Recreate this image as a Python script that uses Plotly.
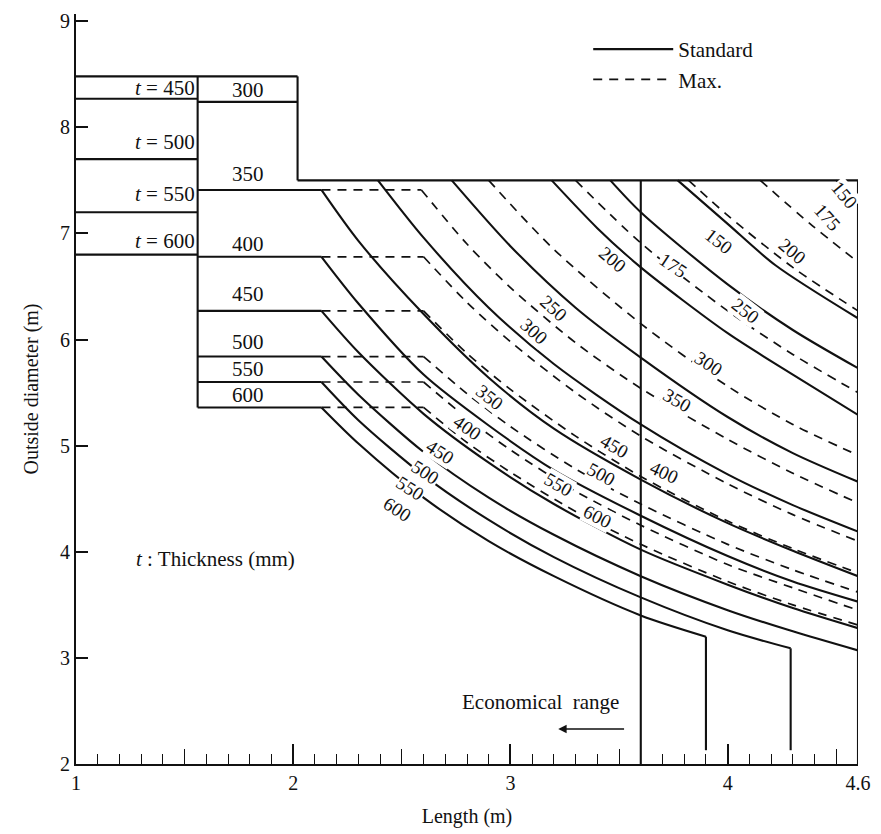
import plotly.graph_objects as go

SERIF = "Liberation Serif"
INK = "#111111"

# ---------------------------------------------------------------------------
# Curve data: length L (m) against outside diameter D (m) for wall thickness t (mm)
# ---------------------------------------------------------------------------
std_thickness = [150, 175, 200, 250, 300, 350, 400, 450, 500, 550, 600]
std_length = [
    [3.77, 4.00, 4.22, 4.60],
    [3.46, 3.60, 4.00, 4.30, 4.60],
    [3.19, 3.40, 3.60, 4.00, 4.30, 4.60],
    [2.73, 3.00, 3.30, 3.60, 4.00, 4.30, 4.60],
    [2.39, 2.60, 2.90, 3.20, 3.60, 4.00, 4.30, 4.60],
    [1.56, 2.13, 2.30, 2.60, 2.90, 3.20, 3.60, 4.00, 4.30, 4.60],
    [1.56, 2.13, 2.30, 2.60, 2.90, 3.20, 3.60, 4.00, 4.30, 4.60],
    [1.56, 2.13, 2.30, 2.60, 2.90, 3.20, 3.60, 4.00, 4.30, 4.60],
    [1.56, 2.13, 2.30, 2.60, 2.90, 3.20, 3.60, 4.00, 4.30, 4.60],
    [1.56, 2.13, 2.30, 2.60, 2.90, 3.20, 3.60, 4.00, 4.29],
    [1.56, 2.13, 2.30, 2.60, 2.90, 3.20, 3.60, 3.90],
]
std_diameter = [
    [7.50, 7.09, 6.70, 6.20],
    [7.50, 7.20, 6.52, 6.09, 5.73],
    [7.50, 7.05, 6.68, 6.06, 5.67, 5.29],
    [7.50, 6.88, 6.30, 5.83, 5.27, 4.93, 4.66],
    [7.50, 6.96, 6.30, 5.77, 5.20, 4.73, 4.44, 4.19],
    [7.41, 7.41, 6.93, 6.24, 5.64, 5.16, 4.68, 4.27, 4.01, 3.77],
    [6.78, 6.78, 6.34, 5.67, 5.19, 4.77, 4.34, 3.96, 3.72, 3.53],
    [6.27, 6.27, 5.88, 5.30, 4.84, 4.45, 4.02, 3.69, 3.47, 3.28],
    [5.84, 5.84, 5.48, 4.94, 4.51, 4.16, 3.77, 3.45, 3.25, 3.07],
    [5.60, 5.60, 5.24, 4.72, 4.30, 3.95, 3.57, 3.26, 3.09],
    [5.36, 5.36, 5.02, 4.51, 4.10, 3.77, 3.40, 3.20],
]

max_thickness = [150, 175, 200, 250, 300, 350, 400, 450, 500, 550, 600]
max_length = [
    [4.50, 4.60],
    [4.15, 4.38, 4.60],
    [3.82, 4.00, 4.30, 4.60],
    [3.30, 3.60, 4.00, 4.30, 4.60],
    [2.90, 3.20, 3.60, 4.00, 4.30, 4.60],
    [2.13, 2.59, 2.80, 3.00, 3.30, 3.60, 4.00, 4.30, 4.60],
    [2.13, 2.60, 2.80, 3.00, 3.30, 3.60, 4.00, 4.30, 4.60],
    [2.13, 2.60, 2.80, 3.00, 3.30, 3.60, 4.00, 4.30, 4.60],
    [2.13, 2.60, 2.80, 3.00, 3.30, 3.60, 4.00, 4.30, 4.60],
    [2.13, 2.60, 2.80, 3.00, 3.30, 3.60, 4.00, 4.30, 4.60],
    [2.13, 2.60, 2.80, 3.00, 3.30, 3.60, 4.00, 4.30, 4.60],
]
max_diameter = [
    [7.50, 7.30],
    [7.50, 7.09, 6.73],
    [7.50, 7.17, 6.68, 6.27],
    [7.50, 6.91, 6.27, 5.86, 5.50],
    [7.50, 6.85, 6.15, 5.56, 5.20, 4.91],
    [7.41, 7.41, 6.90, 6.49, 5.97, 5.54, 5.06, 4.74, 4.46],
    [6.78, 6.78, 6.35, 5.98, 5.50, 5.09, 4.64, 4.35, 4.10],
    [6.27, 6.27, 5.87, 5.53, 5.09, 4.71, 4.29, 4.03, 3.80],
    [5.84, 5.84, 5.49, 5.18, 4.78, 4.45, 4.07, 3.83, 3.62],
    [5.60, 5.60, 5.26, 4.96, 4.57, 4.25, 3.88, 3.66, 3.45],
    [5.36, 5.36, 5.03, 4.75, 4.38, 4.07, 3.72, 3.50, 3.31],
]

# Frame of the diagram (m)
left_row_levels = [8.48, 8.27, 7.70, 7.20, 6.80]   # t = 450 ... 600 rows, L = 1.0 - 1.56
row300_level = 8.24
column_edges = [1.00, 1.56, 2.02]
band_top = 7.50
economical_limit = 3.60
length_max = 4.60
tail_floor = 2.13

left_row_names = ["450", "500", "550", "600"]
column_names = ["300", "350", "400", "450", "500", "550", "600"]

x_ticks = [1, 2, 3, 4, 4.6]
x_half_ticks = [1.5, 2.5, 3.5, 4.5]
y_ticks = [2, 3, 4, 5, 6, 7, 8, 9]

# ---------------------------------------------------------------------------
fig = go.Figure()
SOLID = dict(color=INK, width=2.1)
DASHED = dict(color=INK, width=1.7, dash="9px,7px")

# frame lines
fx, fy = [], []
def seg(x0, y0, x1, y1):
    fx.extend([x0, x1, None])
    fy.extend([y0, y1, None])

seg(column_edges[0], left_row_levels[0], column_edges[2], left_row_levels[0])
for lv in left_row_levels[1:]:
    seg(column_edges[0], lv, column_edges[1], lv)
seg(column_edges[1], row300_level, column_edges[2], row300_level)
seg(column_edges[1], left_row_levels[0], column_edges[1], std_diameter[-1][0])
seg(column_edges[2], left_row_levels[0], column_edges[2], band_top)
seg(column_edges[2], band_top, length_max, band_top)
seg(economical_limit, band_top, economical_limit, 2.0)
seg(length_max, band_top, length_max, 2.0)
fig.add_trace(go.Scatter(x=fx, y=fy, mode="lines", line=SOLID, showlegend=False,
                         hoverinfo="skip", xaxis="x2"))

first = True
for t, L, D in zip(std_thickness, std_length, std_diameter):
    start = 0
    if D[0] == D[1]:
        fig.add_trace(go.Scatter(x=L[:2], y=D[:2], mode="lines", line=SOLID,
                                 showlegend=False, hoverinfo="skip"))
        start = 1
    fig.add_trace(go.Scatter(x=L[start:], y=D[start:], mode="lines", line=SOLID,
                             line_shape="spline", line_smoothing=0.8,
                             name="Standard", legendrank=1,
                             showlegend=first, hoverinfo="skip"))
    first = False
    if L[-1] < length_max:
        fig.add_trace(go.Scatter(x=[L[-1], L[-1]], y=[D[-1], tail_floor], mode="lines",
                                 line=SOLID, showlegend=False, hoverinfo="skip"))

first = True
for t, L, D in zip(max_thickness, max_length, max_diameter):
    start = 0
    if D[0] == D[1]:
        fig.add_trace(go.Scatter(x=L[:2], y=D[:2], mode="lines", line=DASHED,
                                 showlegend=False, hoverinfo="skip"))
        start = 1
    fig.add_trace(go.Scatter(x=L[start:], y=D[start:], mode="lines", line=DASHED,
                             line_shape="spline", line_smoothing=0.8,
                             name="Max.", legendrank=2,
                             showlegend=first, hoverinfo="skip"))
    first = False

# ---------------------------------------------------------------------------
annotations = []
def text(x, y, s, size=19, angle=0, bg=None):
    a = dict(x=x, y=y, text=s, showarrow=False, textangle=angle,
             font=dict(family=SERIF, size=size, color=INK))
    if bg:
        a.update(bgcolor=bg, borderpad=0)
    annotations.append(a)

# row captions in the left blocks
left_caption_y = [8.375, 7.86, 7.37, 6.93]
for name, yy in zip(left_row_names, left_caption_y):
    text(1.41, yy, "<i>t</i> = " + name, size=21)
column_caption_y = [8.35, 7.56, 6.90, 6.43, 5.98, 5.72, 5.48]
for name, yy in zip(column_names, column_caption_y):
    text(1.79, yy, name, size=21)

# curve labels (length, diameter, angle)
std_label_spots = {
    150: (3.96, 6.92, 38), 175: (3.75, 6.70, 34), 200: (3.47, 6.75, 40),
    250: (3.20, 6.29, 42), 300: (3.11, 6.08, 42), 350: (2.905, 5.45, 38),
    400: (2.80, 5.17, 35), 450: (2.68, 4.94, 33), 500: (2.61, 4.75, 33),
    550: (2.54, 4.60, 33), 600: (2.48, 4.40, 33),
}
max_label_spots = {
    150: (4.54, 7.36, 50), 175: (4.46, 7.15, 48), 200: (4.30, 6.83, 40),
    250: (4.08, 6.27, 38), 300: (3.91, 5.77, 33), 350: (3.77, 5.43, 30),
    400: (3.71, 4.75, 25), 450: (3.48, 4.99, 30), 500: (3.42, 4.73, 28),
    550: (3.22, 4.63, 30), 600: (3.40, 4.33, 27),
}
for t in std_thickness:
    x, y, ang = std_label_spots[t]
    text(x, y, str(t), size=19, angle=ang, bg="white")
for t in max_thickness:
    x, y, ang = max_label_spots[t]
    text(x, y, str(t), size=19, angle=ang, bg="white")

text(1.64, 3.93, "<i>t</i> : Thickness (mm)", size=21)
text(3.14, 2.58, "Economical  range", size=21)
annotations.append(dict(x=3.22, y=2.33, ax=3.53, ay=2.33, axref="x", ayref="y",
                        xref="x", yref="y", text="", showarrow=True,
                        arrowhead=2, arrowsize=1.2, arrowwidth=1.4, arrowcolor=INK))

fig.update_layout(
    width=881, height=834,
    margin=dict(l=76, r=17, t=10, b=67),
    paper_bgcolor="white", plot_bgcolor="white",
    font=dict(family=SERIF, size=20, color=INK),
    annotations=annotations,
    showlegend=True,
    legend=dict(x=0.655, y=0.98, xanchor="left", yanchor="top",
                itemwidth=80, bgcolor="rgba(0,0,0,0)", tracegroupgap=0,
                font=dict(family=SERIF, size=21, color=INK)),
    xaxis=dict(range=[1, length_max], showgrid=False, zeroline=False,
               showline=True, linecolor=INK, linewidth=2,
               ticks="inside", tickvals=x_ticks, ticktext=["1", "2", "3", "4", "4.6"],
               ticklen=20, tickwidth=1.5, tickcolor=INK,
               minor=dict(ticks="inside", dtick=0.1, tick0=1, ticklen=10,
                          tickwidth=1.2, tickcolor=INK, showgrid=False),
               tickfont=dict(family=SERIF, size=20),
               title=dict(text="Length (m)", font=dict(family=SERIF, size=20), standoff=16)),
    xaxis2=dict(range=[1, length_max], overlaying="x", anchor="y", side="bottom",
                showgrid=False, zeroline=False, showline=False,
                ticks="inside", tickvals=x_half_ticks, ticklen=15, tickwidth=1.3,
                tickcolor=INK, showticklabels=False),
    yaxis=dict(range=[2, 9.068], showgrid=False, zeroline=False,
               showline=True, linecolor=INK, linewidth=2,
               ticks="inside", tickvals=y_ticks, ticklen=12, tickwidth=1.5,
               tickcolor=INK, tickfont=dict(family=SERIF, size=20),
               title=dict(text="Outside diameter (m)", font=dict(family=SERIF, size=20),
                          standoff=16)),
)

fig.write_html("out.html")
